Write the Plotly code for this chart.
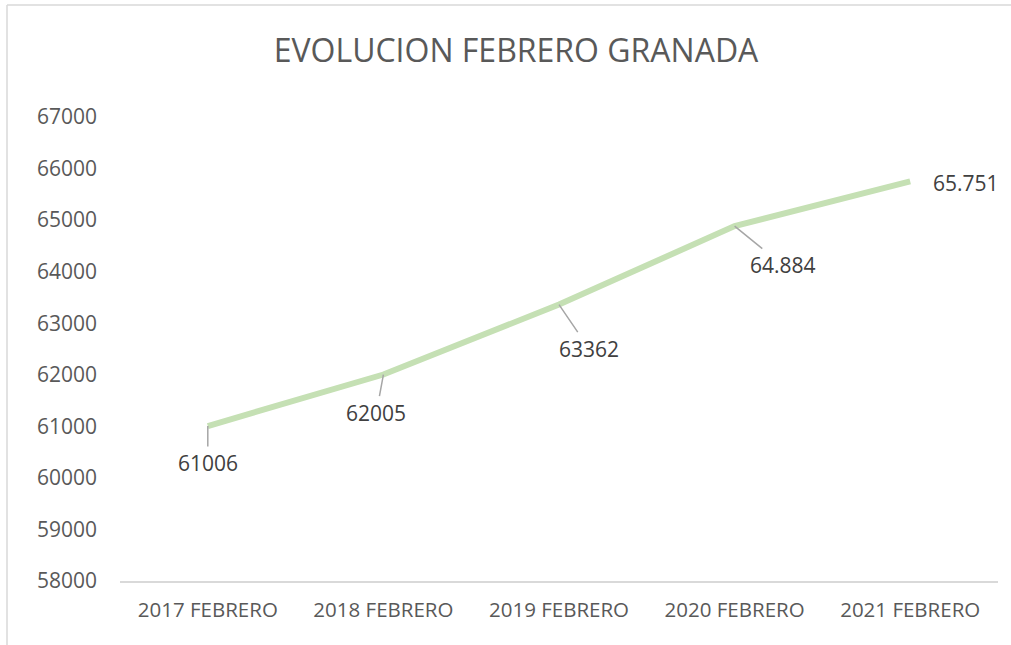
import plotly.graph_objects as go

categories = ["2017 FEBRERO", "2018 FEBRERO", "2019 FEBRERO", "2020 FEBRERO", "2021 FEBRERO"]
values = [61006, 62005, 63362, 64884, 65751]
label_texts = ["61006", "62005", "63362", "64.884", "65.751"]
y_ticks = [58000, 59000, 60000, 61000, 62000, 63000, 64000, 65000, 66000, 67000]

W, H = 1011, 645
L, R, T, B = 120, 13, 117, 64
pw, ph = W - L - R, H - T - B

# label offsets (pixels) relative to data point
offsets = [(0, 37), (-7, 38), (30, 44), (48, 39), (56, 2)]

fig = go.Figure()
fig.add_trace(go.Scatter(
    x=categories, y=values, mode="lines",
    line=dict(color="#c5e0b4", width=6),
    hoverinfo="skip", showlegend=False,
))

font_family = "Open Sans, Noto Sans, sans-serif"
for i, (c, v, t) in enumerate(zip(categories, values, label_texts)):
    dx, dy = offsets[i]
    if i == len(values) - 1:
        fig.add_annotation(x=c, y=v, text=t, showarrow=False, xshift=dx, yshift=-dy,
                           font=dict(size=21, color="#404040", family=font_family))
    else:
        fig.add_annotation(x=c, y=v, text=t, showarrow=True, arrowhead=0,
                           arrowwidth=1.5, arrowcolor="#a6a6a6", ax=dx, ay=dy,
                           standoff=0, borderpad=2,
                           font=dict(size=21, color="#404040", family=font_family))

# chart border (top and left visible)
fig.add_shape(type="line", xref="paper", yref="paper",
              x0=(7 - L) / pw, x1=(W - L) / pw, y0=(H - B - 5) / ph, y1=(H - B - 5) / ph,
              line=dict(color="#d9d9d9", width=1.5))
fig.add_shape(type="line", xref="paper", yref="paper",
              x0=(7 - L) / pw, x1=(7 - L) / pw, y0=(H - B - 5) / ph, y1=-B / ph,
              line=dict(color="#d9d9d9", width=1.5))

fig.update_layout(
    width=W, height=H,
    margin=dict(l=L, r=R, t=T, b=B),
    paper_bgcolor="white", plot_bgcolor="white",
    title=dict(text="EVOLUCION FEBRERO GRANADA", x=516 / W, xanchor="center",
               y=1 - 51 / H, yanchor="middle",
               font=dict(size=32, color="#595959", family=font_family)),
    xaxis=dict(showgrid=False, zeroline=False, showline=True, linecolor="#d9d9d9",
               linewidth=1.5, ticks="", tickfont=dict(size=20.5, color="#595959", family=font_family),
               range=[-0.5, 4.5], ticklabelstandoff=10),
    yaxis=dict(showgrid=False, zeroline=False, showline=False, range=[58000, 67000],
               tickvals=y_ticks, ticktext=[str(v) for v in y_ticks],
               tickfont=dict(size=21, color="#595959", family=font_family), ticklabelstandoff=22),
)

fig.write_html("out.html", config={"displayModeBar": False},
               post_script="document.body.style.margin='0';document.body.style.overflow='hidden';")
